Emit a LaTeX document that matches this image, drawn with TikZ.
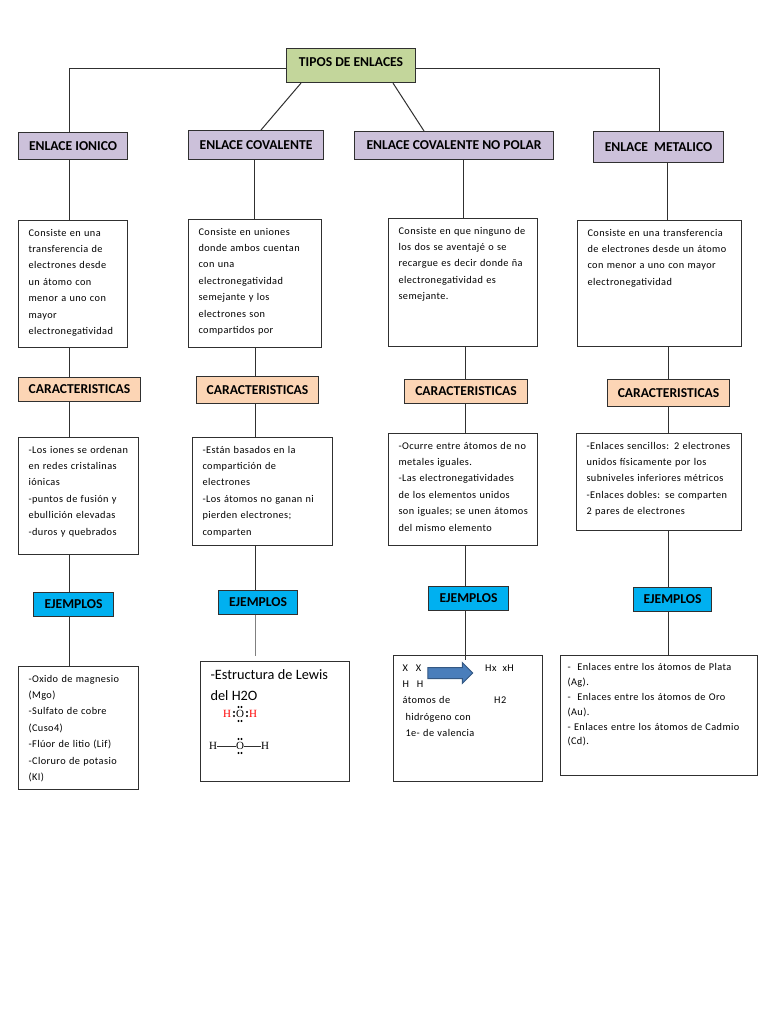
\documentclass[tikz,border=0pt]{standalone}
\usepackage{fontspec}
\setmainfont{Carlito}[LetterSpace=4]
\newfontfamily\hdrfam{Carlito}
\newfontfamily\lewisfam{Liberation Serif}
\usetikzlibrary{shapes.arrows}
\definecolor{boxline}{HTML}{303030}
\definecolor{titfill}{HTML}{C3D69B}
\definecolor{typfill}{HTML}{CCC1DA}
\definecolor{carfill}{HTML}{FCD5B5}
\definecolor{ejefill}{HTML}{00B0F0}
\definecolor{arrfill}{HTML}{4A7EBB}
\newcommand{\bodytext}[4]{\parbox[t][#1pt][t]{\linewidth}{\fontsize{#2}{#3}\selectfont\raggedright\strut #4}}

\begin{document}
\begin{tikzpicture}[
  x=1pt,y=-1pt,
  con/.style={draw=boxline,line width=1pt},
  hdr/.style={draw=boxline,line width=1.1pt,anchor=north west,inner sep=0pt,align=center,font=\hdrfam\bfseries\fontsize{13.6}{15}\selectfont},
  tit/.style={hdr,fill=titfill},
  typ/.style={hdr,fill=typfill},
  car/.style={hdr,fill=carfill},
  eje/.style={hdr,fill=ejefill},
  txt/.style={draw=boxline,line width=1.1pt,fill=white,anchor=north west,inner xsep=10pt,inner ysep=4pt,align=left},
  lew/.style={inner sep=0pt,font=\lewisfam\fontsize{11}{12}\selectfont},
  dot/.style={fill=black,circle,inner sep=0pt,minimum size=2.2pt},
]
\useasboundingbox (0,0) rectangle (768,1024);
\fill[white] (0,0) rectangle (768,1024);

% top
\node[tit,minimum width=129pt,minimum height=34pt] (tipos) at (286,48) {\raisebox{8pt}{TIPOS DE ENLACES}};

% types of bond
\node[typ,minimum width=109pt,minimum height=27pt] (typ1) at (18,132) {ENLACE IONICO};
\node[typ,minimum width=135pt,minimum height=29pt] (typ2) at (188,130) {ENLACE COVALENTE};
\node[typ,minimum width=199pt,minimum height=28pt] (typ3) at (354,131) {ENLACE COVALENTE NO POLAR};
\node[typ,minimum width=130pt,minimum height=31pt] (typ4) at (593,131) {ENLACE\ \ METALICO};

% definitions
\node[txt,text width=89pt] (def1) at (18,220) {\bodytext{119}{10.3}{16.4}{Consiste en una\\transferencia de\\electrones desde\\un átomo con\\menor a uno con\\mayor\\electronegatividad}};
\node[txt,text width=113pt] (def2) at (188,219) {\bodytext{120}{10.3}{16.4}{Consiste en uniones\\donde ambos cuentan\\con una\\electronegatividad\\semejante y los\\electrones son\\compartidos por}};
\node[txt,text width=129pt] (def3) at (388,218) {\bodytext{120}{10.3}{16.4}{Consiste en que ninguno de\\los dos se aventajé o se\\recargue es decir donde ña\\electronegatividad es\\semejante.}};
\node[txt,text width=144pt] (def4) at (577,220) {\bodytext{118}{10.3}{16.4}{Consiste en una transferencia\\de electrones desde un átomo\\con menor a uno con mayor\\electronegatividad}};

% caracteristicas
\node[car,minimum width=122pt,minimum height=24pt] (car1) at (18,377) {CARACTERISTICAS};
\node[car,minimum width=122pt,minimum height=27pt] (car2) at (196,376) {CARACTERISTICAS};
\node[car,minimum width=123pt,minimum height=24pt] (car3) at (404,379) {CARACTERISTICAS};
\node[car,minimum width=122pt,minimum height=27pt] (car4) at (607,379) {CARACTERISTICAS};

% properties
\node[txt,text width=100pt] (pro1) at (18,437) {\bodytext{109}{10.3}{16.4}{-Los iones se ordenan\\en redes cristalinas\\iónicas\\-puntos de fusión y\\ebullición elevadas\\-duros y quebrados}};
\node[txt,text width=120pt] (pro2) at (192,437) {\bodytext{100}{10.3}{16.4}{-Están basados en la\\compartición de\\electrones\\-Los átomos no ganan ni\\pierden electrones;\\comparten}};
\node[txt,text width=129pt] (pro3) at (388,433) {\bodytext{104}{10.3}{16.4}{-Ocurre entre átomos de no\\metales iguales.\\-Las electronegatividades\\de los elementos unidos\\\mbox{son iguales; se unen átomos}\\del mismo elemento}};
\node[txt,text width=145pt] (pro4) at (576,433) {\bodytext{89}{10.3}{16.4}{-Enlaces sencillos: 2 electrones\\unidos físicamente por los\\subniveles inferiores métricos\\-Enlaces dobles: se comparten\\2 pares de electrones}};

% ejemplos
\node[eje,minimum width=80pt,minimum height=24pt] (eje1) at (33,592) {EJEMPLOS};
\node[eje,minimum width=79pt,minimum height=24pt] (eje2) at (218,590) {EJEMPLOS};
\node[eje,minimum width=80pt,minimum height=24pt] (eje3) at (428,586) {EJEMPLOS};
\node[eje,minimum width=78pt,minimum height=24pt] (eje4) at (633,587) {EJEMPLOS};

% examples
\node[txt,text width=100pt] (exa1) at (18,666) {\bodytext{115}{10.3}{16.4}{-Oxido de magnesio\\(Mgo)\\-Sulfato de cobre\\(Cuso4)\\-Flúor de litio (Lif)\\-Cloruro de potasio\\(KI)}};
\node[txt,text width=129pt,font=\hdrfam] (exa2) at (200,661) {\bodytext{112}{14.3}{20.5}{-Estructura de Lewis\\del H2O}};
\node[txt,text width=131pt,inner xsep=9pt] (exa3) at (393,655) {\bodytext{118}{10.3}{16.4}{X\hspace{8pt}X\hspace{64pt}Hx\hspace{6pt}xH\\H\hspace{8pt}H\\átomos de\hspace{44pt}H2\\\hspace{3pt}hidrógeno con\\\hspace{3pt}1e- de valencia}};
\node[txt,text width=183pt,inner xsep=7pt,inner ysep=5pt] (exa4) at (560,655) {\bodytext{110}{10.3}{14.8}{-\ \ Enlaces entre los átomos de Plata\\(Ag).\\-\ \ Enlaces entre los átomos de Oro\\(Au).\\-\ Enlaces entre los átomos de Cadmio\\(Cd).}};

% block arrow and Lewis structures
\node[single arrow,draw=arrfill!70!black,fill=arrfill,line width=1pt,inner sep=0pt,text height=10pt,text width=0pt,
      minimum height=45pt,minimum width=20pt,single arrow head extend=5pt,single arrow head indent=0pt] (flecha) at (447.5,673) {};
\node[lew,red] (h1) at (227,714) {H};
\node[lew] (o1) at (240,714) {O};
\node[lew,red] (h2) at (253,714) {H};
\node[lew] (h3) at (213,746) {H};
\node[lew] (o2) at (240,746) {O};
\node[lew] (h4) at (265,746) {H};
\draw[con,line width=0.6pt] (h3) -- (o2);
\draw[con,line width=0.6pt] (o2) -- (h4);
\foreach \x/\y in {238.5/707,241.5/707,238.5/721,241.5/721,234/712,234/716,247/712,247/716,
                   238.5/739,241.5/739,238.5/753,241.5/753}
  \node[dot] at (\x,\y) {};

% connectors
\draw[con] (tipos.west |- 0,69) -| (typ1.north -| 69,0);
\draw[con] (tipos.east |- 0,69) -| (typ4.north -| 659,0);
\draw[con] (tipos.south -| 301,0) -- (typ2.north -| 261,0);
\draw[con] (tipos.south -| 393,0) -- (typ3.north -| 424,0);
\foreach \a/\b/\x in {typ1/def1/69,def1/car1/69,car1/pro1/69,pro1/eje1/69,eje1/exa1/69,
                      typ2/def2/254,def2/car2/255,car2/pro2/255,pro2/eje2/255,
                      typ3/def3/463,def3/car3/465,car3/pro3/465,pro3/eje3/465,
                      typ4/def4/667,def4/car4/668,car4/pro4/668,pro4/eje4/668,eje4/exa4/668}
  \draw[con] (\a.south -| \x,0) -- (\b.north -| \x,0);
\draw[con,draw=gray,shorten >=5pt] (eje2.south -| 255,0) -- (exa2.north -| 255,0);
\draw[con,shorten >=-5pt] (eje3.south -| 465,0) -- (exa3.north -| 465,0);
\end{tikzpicture}
\end{document}
